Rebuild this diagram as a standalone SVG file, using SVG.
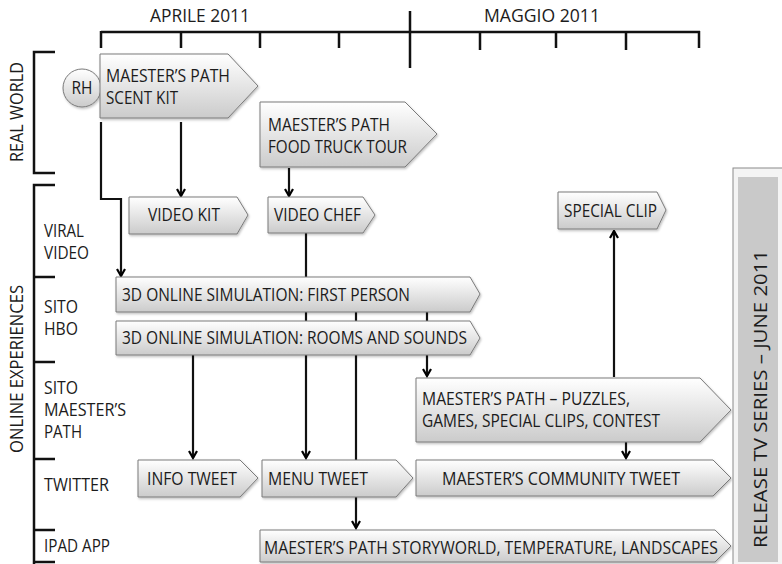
<svg xmlns="http://www.w3.org/2000/svg" width="782" height="564" viewBox="0 0 782 564">
<defs>
<linearGradient id="g" x1="0" y1="0" x2="0" y2="1">
<stop offset="0" stop-color="#ffffff"/>
<stop offset="1" stop-color="#cbcbcb"/>
</linearGradient>
<marker id="ah" viewBox="0 0 10 10" refX="8.5" refY="5" markerWidth="10" markerHeight="10" orient="auto" markerUnits="userSpaceOnUse">
<path d="M1.5,1 L8.5,5 L1.5,9" fill="none" stroke="#000" stroke-width="2.2"/>
</marker>
<filter id="sh" x="-5%" y="-10%" width="115%" height="130%">
<feDropShadow dx="1" dy="1.5" stdDeviation="1" flood-color="#000" flood-opacity="0.25"/>
</filter>
</defs>
<style>
.t{font-family:"Open Sans","DejaVu Sans",sans-serif;font-size:17.5px;fill:#1c1c1c}
.box{fill:url(#g);stroke:#7a7a7a;stroke-width:1;filter:url(#sh)}
.ax{stroke:#111;stroke-width:2.5;fill:none}
.ca{stroke:#111;stroke-width:2.2;fill:none;marker-end:url(#ah)}
</style>
<rect width="782" height="564" fill="#fff"/>

<g id="timeline">
<path class="ax" d="M101,32 H700 M101,31 V48 M181,31 V48 M260,31 V48 M339,31 V48 M410,11 V68 M480,31 V50 M556,31 V48 M626,31 V50 M699,31 V48"/>
<text class="t" x="150" y="22" textLength="100" lengthAdjust="spacingAndGlyphs">APRILE 2011</text>
<text class="t" x="484" y="22" textLength="116" lengthAdjust="spacingAndGlyphs">MAGGIO 2011</text>
</g>

<g id="lanes">
<path class="ax" d="M55,52 H34 V173 H55"/>
<path class="ax" d="M55,185 H34 V564 M34,277 H55 M34,362 H55 M34,459 H55 M34,530 H55 M34,562 H55"/>
<text class="t" transform="translate(23,112) rotate(-90)" text-anchor="middle" textLength="100" lengthAdjust="spacingAndGlyphs">REAL WORLD</text>
<text class="t" transform="translate(23,369) rotate(-90)" text-anchor="middle" textLength="168" lengthAdjust="spacingAndGlyphs">ONLINE EXPERIENCES</text>
<text class="t" x="44" y="237" textLength="40" lengthAdjust="spacingAndGlyphs">VIRAL</text>
<text class="t" x="44" y="259" textLength="45" lengthAdjust="spacingAndGlyphs">VIDEO</text>
<text class="t" x="44" y="313" textLength="34" lengthAdjust="spacingAndGlyphs">SITO</text>
<text class="t" x="44" y="335" textLength="34" lengthAdjust="spacingAndGlyphs">HBO</text>
<text class="t" x="44" y="394" textLength="34" lengthAdjust="spacingAndGlyphs">SITO</text>
<text class="t" x="44" y="416" textLength="82" lengthAdjust="spacingAndGlyphs">MAESTER’S</text>
<text class="t" x="44" y="438" textLength="38" lengthAdjust="spacingAndGlyphs">PATH</text>
<text class="t" x="44" y="491" textLength="65" lengthAdjust="spacingAndGlyphs">TWITTER</text>
<text class="t" x="44" y="552" textLength="66" lengthAdjust="spacingAndGlyphs">IPAD APP</text>
</g>

<g id="connectors">
<path class="ca" d="M101,122 V199 H121 V276"/>
<path class="ca" d="M181,122 V196"/>
<path class="ca" d="M289,168 V196"/>
<path class="ca" d="M306,233 V458"/>
<path class="ca" d="M356,312 V528"/>
<path class="ca" d="M427,312 V376"/>
<path class="ca" d="M193,355 V458"/>
<path class="ca" d="M614,377 V231"/>
<path class="ca" d="M626,442 V458"/>
</g>

<g id="rh">
<circle cx="82" cy="88" r="19" fill="url(#g)" stroke="#7a7a7a" stroke-width="1" filter="url(#sh)"/>
<text class="t" x="82" y="94" text-anchor="middle" textLength="21" lengthAdjust="spacingAndGlyphs">RH</text>
</g>

<g id="scent-kit">
<polygon class="box" points="100,54 228,54 258,86 228,118 100,118"/>
<text class="t" x="106" y="82" textLength="124" lengthAdjust="spacingAndGlyphs">MAESTER’S PATH</text>
<text class="t" x="106" y="104" textLength="72" lengthAdjust="spacingAndGlyphs">SCENT KIT</text>
</g>

<g id="food-truck">
<polygon class="box" points="260,102 405,102 437,134 405,167 260,167"/>
<text class="t" x="268" y="131" textLength="122" lengthAdjust="spacingAndGlyphs">MAESTER’S PATH</text>
<text class="t" x="268" y="153" textLength="139" lengthAdjust="spacingAndGlyphs">FOOD TRUCK TOUR</text>
</g>

<g id="video-kit">
<polygon class="box" points="129,197 237,197 248,215 237,234 129,234"/>
<text class="t" x="148" y="221" textLength="72" lengthAdjust="spacingAndGlyphs">VIDEO KIT</text>
</g>

<g id="video-chef">
<polygon class="box" points="268,197 363,197 375,215 363,233 268,233"/>
<text class="t" x="274" y="221" textLength="87" lengthAdjust="spacingAndGlyphs">VIDEO CHEF</text>
</g>

<g id="special-clip">
<polygon class="box" points="558,192 657,192 666,210 657,229 558,229"/>
<text class="t" x="564" y="217" textLength="93" lengthAdjust="spacingAndGlyphs">SPECIAL CLIP</text>
</g>

<g id="first-person">
<polygon class="box" points="116,277 470,277 480,294 470,312 116,312"/>
<text class="t" x="122" y="301" textLength="288" lengthAdjust="spacingAndGlyphs">3D ONLINE SIMULATION: FIRST PERSON</text>
</g>

<g id="rooms-sounds">
<polygon class="box" points="116,321 470,321 480,338 470,355 116,355"/>
<text class="t" x="122" y="344" textLength="345" lengthAdjust="spacingAndGlyphs">3D ONLINE SIMULATION: ROOMS AND SOUNDS</text>
</g>

<g id="puzzles">
<polygon class="box" points="416,378 700,378 731,410 700,442 416,442"/>
<text class="t" x="422" y="405" textLength="208" lengthAdjust="spacingAndGlyphs">MAESTER’S PATH – PUZZLES,</text>
<text class="t" x="422" y="427" textLength="238" lengthAdjust="spacingAndGlyphs">GAMES, SPECIAL CLIPS, CONTEST</text>
</g>

<g id="info-tweet">
<polygon class="box" points="138,460 240,460 258,478 240,497 138,497"/>
<text class="t" x="147" y="485" textLength="90" lengthAdjust="spacingAndGlyphs">INFO TWEET</text>
</g>

<g id="menu-tweet">
<polygon class="box" points="262,460 396,460 413,478 396,497 262,497"/>
<text class="t" x="268" y="485" textLength="100" lengthAdjust="spacingAndGlyphs">MENU TWEET</text>
</g>

<g id="community-tweet">
<polygon class="box" points="416,460 713,460 731,478 713,496 416,496"/>
<text class="t" x="442" y="485" textLength="238" lengthAdjust="spacingAndGlyphs">MAESTER’S COMMUNITY TWEET</text>
</g>

<g id="ipad">
<polygon class="box" points="260,530 715,530 731,546 715,562 260,562"/>
<text class="t" x="264" y="554" textLength="454" lengthAdjust="spacingAndGlyphs">MAESTER’S PATH STORYWORLD, TEMPERATURE, LANDSCAPES</text>
</g>

<g id="release">
<rect x="733" y="168" width="52" height="400" fill="#f4f4f4" stroke="#8a8a8a" stroke-width="1"/>
<rect x="738" y="177" width="40" height="385" fill="#c9c9c9"/>
<text class="t" transform="translate(767,399) rotate(-90)" text-anchor="middle" font-size="19" textLength="298" lengthAdjust="spacingAndGlyphs">RELEASE TV SERIES – JUNE 2011</text>
</g>
</svg>
